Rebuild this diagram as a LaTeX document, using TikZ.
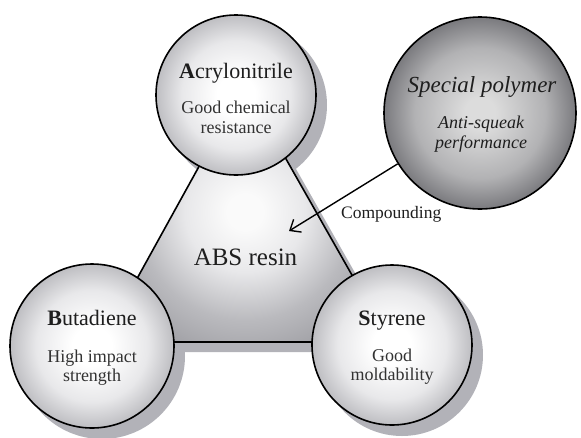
\documentclass[tikz,border=0pt]{standalone}
\usepackage{fontspec}
\setmainfont{Liberation Serif}
\usetikzlibrary{arrows.meta}
\definecolor{shad}{RGB}{178,178,184}
\definecolor{circedge}{RGB}{190,190,194}
\definecolor{circmid}{RGB}{232,232,234}
\definecolor{spcenter}{RGB}{220,220,220}
\definecolor{spmid}{RGB}{178,178,180}
\definecolor{spedge}{RGB}{122,122,126}
\definecolor{tricenter}{RGB}{250,250,250}
\definecolor{trilight}{RGB}{232,232,234}
\definecolor{trimid}{RGB}{186,186,190}
\definecolor{triedge}{RGB}{160,160,165}
\definecolor{titlecol}{RGB}{30,30,30}
\definecolor{subcol}{RGB}{50,50,50}
\pgfdeclareradialshading{circsh}{\pgfpoint{0bp}{0bp}}{color(0bp)=(white); color(6bp)=(white); color(17bp)=(circmid); color(25bp)=(circedge); color(50bp)=(circedge)}
\pgfdeclareradialshading{spsh}{\pgfpoint{0bp}{0bp}}{color(0bp)=(spcenter); color(4bp)=(spcenter); color(17bp)=(spmid); color(25bp)=(spedge); color(50bp)=(spedge)}
\pgfdeclareradialshading{trish}{\pgfpoint{0bp}{0bp}}{color(0bp)=(tricenter); color(3bp)=(tricenter); color(10bp)=(trilight); color(18bp)=(trimid); color(25bp)=(triedge); color(50bp)=(triedge)}
\begin{document}
\begin{tikzpicture}[x=1pt,y=-1pt,
  circ/.style={circle, draw=black, line width=1.6pt, inner sep=0pt, minimum size=#1, shade, shading=circsh},
  spcirc/.style={circle, draw=black, line width=1.6pt, inner sep=0pt, minimum size=#1, shade, shading=spsh},
  shadowc/.style={circle, fill=shad, inner sep=0pt, minimum size=#1},
  title/.style={anchor=base, font=\fontsize{22}{22}\selectfont, text=titlecol, inner sep=0pt},
  sub/.style={anchor=base, font=\fontsize{18}{18}\selectfont, text=subcol, inner sep=0pt},
  ititle/.style={anchor=base, font=\fontsize{23}{23}\selectfont\itshape, text=titlecol, inner sep=0pt},
  isub/.style={anchor=base, font=\fontsize{18}{18}\selectfont\itshape, text=titlecol, inner sep=0pt},
  triedgeline/.style={line width=1.6pt, draw=black},
  conn/.style={line width=1.4pt, -{Straight Barb[length=9pt,width=15pt,line width=1.4pt]}},
]
\useasboundingbox (0,0) rectangle (581,437);
% shadows
\coordinate (sA) at (254,95);
\coordinate (sB) at (112,352);
\coordinate (sC) at (400,352);
\fill[shad] (sA) -- (sB) -- (sC) -- cycle;
\node[shadowc=162pt] (acrS) at (246,105) {};
\node[shadowc=166pt] (butS) at (102,356) {};
\node[shadowc=162pt] (styS) at (402,355) {};
% triangle
\coordinate (tA) at (244,85);
\coordinate (tB) at (102,342);
\coordinate (tC) at (390,342);
\coordinate (tO) at (245,212);
\begin{scope}
\clip (tA) -- (tB) -- (tC) -- cycle;
\shade[shading=trish] (tO) circle (150);
\end{scope}
\draw[triedgeline] (tA) -- (tB) -- (tC) -- cycle;
% circles
\node[circ=160pt] (acr) at (236,95) {};
\node[circ=164pt] (but) at (92,346) {};
\node[circ=160pt] (sty) at (392,345) {};
\node[spcirc=192pt] (sp) at (480,113) {};
% texts
\node[title] (acrT) at (236,78) {\textbf{A}crylonitrile};
\node[sub] (acr1) at (236,113) {Good chemical};
\node[sub] (acr2) at (236,133) {resistance};
\node[title] (butT) at (92,325) {\textbf{B}utadiene};
\node[sub] (but1) at (92,362) {High impact};
\node[sub] (but2) at (92,381) {strength};
\node[title] (styT) at (392,325) {\textbf{S}tyrene};
\node[sub] (sty1) at (392,361) {Good};
\node[sub] (sty2) at (392,380) {moldability};
\node[ititle] (spT) at (482,92) {Special polymer};
\node[isub] (sp1) at (481,128) {Anti-squeak};
\node[isub] (sp2) at (481,148) {performance};
\node[anchor=base, font=\fontsize{25}{25}\selectfont, text=titlecol, inner sep=0pt] (abs) at (245.5,265) {ABS resin};
\node[anchor=base west, font=\fontsize{17.5}{17.5}\selectfont, text=titlecol, inner sep=0pt] (comp) at (341,218) {Compounding};
% arrow
\coordinate (arrowend) at (289,231);
\draw[conn] (sp) -- (arrowend);
\end{tikzpicture}
\end{document}
